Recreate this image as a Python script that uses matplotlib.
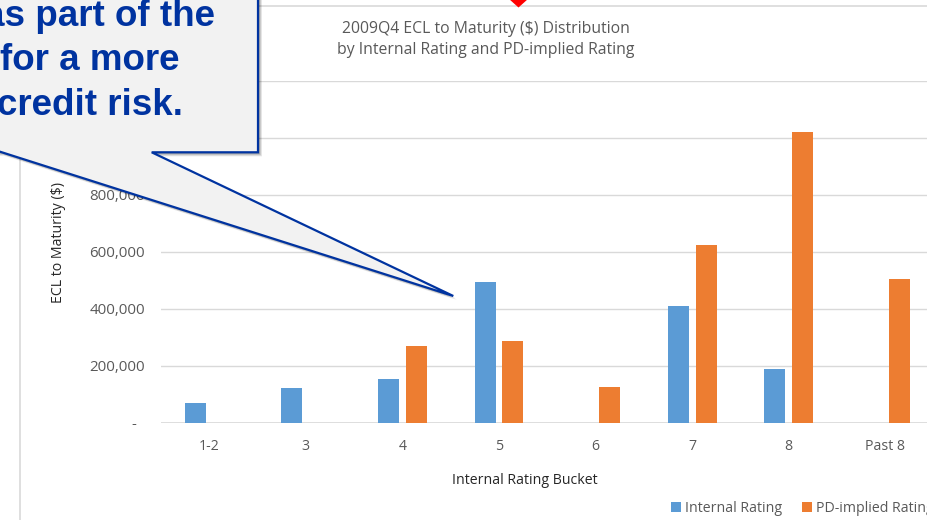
import matplotlib
matplotlib.use("Agg")
import matplotlib.pyplot as plt
from matplotlib.patches import Polygon
from matplotlib.lines import Line2D
import numpy as np

# ---- data ----
categories = ["1-2", "3", "4", "5", "6", "7", "8", "Past 8"]
internal_rating = [68000, 120000, 152000, 494000, 0, 410000, 188000, 0]
pd_implied_rating = [0, 0, 270000, 286000, 126000, 623000, 1020000, 503000]
series_names = ["Internal Rating", "PD-implied Rating"]
y_ticks = [0, 200000, 400000, 600000, 800000, 1000000, 1200000]
# labels of the two top ticks are hidden behind the callout in the reference
hidden_tick_labels = [1000000, 1200000]

title = "2009Q4 ECL to Maturity ($) Distribution\nby Internal Rating and PD-implied Rating"
x_label = "Internal Rating Bucket"
y_label = "ECL to Maturity ($)"
callout_lines = ["as part of the", "for a more", "credit risk."]

BLUE = "#5b9bd5"
ORANGE = "#ed7d31"
GRID = "#d9d9d9"
TXT = "#595959"
CALL = "#0033a0"

W, H = 928, 520
fig = plt.figure(figsize=(W / 100, H / 100), dpi=100)
plt.rcParams["font.family"] = ["Open Sans", "DejaVu Sans"]


def fx(x):
    return x / W


def fy(y):
    return 1 - y / H


def ylab(v):
    if v == 0:
        return "-  "
    if v in hidden_tick_labels:
        return ""
    return f"{v:,.0f}"


# axes placement (pixels)
left_px, right_px = 160.9, 933.7
top_px, bot_px = 80.5, 422.5
ax = fig.add_axes([fx(left_px), fy(bot_px), (right_px - left_px) / W, (bot_px - top_px) / H])

x = np.arange(len(categories))
bw = 0.2174
off = 0.1429
b1 = ax.bar(x - off, internal_rating, bw, color=BLUE, label=series_names[0], zorder=3)
b2 = ax.bar(x + off, pd_implied_rating, bw, color=ORANGE, label=series_names[1], zorder=3)

ax.set_xlim(-0.5, len(categories) - 0.5)
ax.set_ylim(0, 1200000)
ax.set_yticks(y_ticks)
ax.set_yticklabels([ylab(v) for v in y_ticks])
ax.set_xticks(x)
ax.set_xticklabels(categories)
ax.grid(axis="y", color=GRID, linewidth=1.0, zorder=0)
for s in ax.spines.values():
    s.set_visible(False)
ax.axhline(0, color=GRID, linewidth=1.2, zorder=2)
ax.tick_params(axis="both", length=0, labelcolor=TXT)
ax.tick_params(axis="y", pad=11.5, labelsize=10.8)
ax.tick_params(axis="x", pad=12, labelsize=10.2)

# title and axis titles
fig.text(fx(486), fy(39.5), title, ha="center", va="center", fontsize=11.3,
         color=TXT, linespacing=1.35)
fig.text(fx(525), fy(480), x_label, ha="center", va="center", fontsize=10.2, color="#262626")
fig.text(fx(58.5), fy(242.5), y_label, ha="center", va="center", rotation=90,
         fontsize=10.2, color="#262626")

# legend
fig.legend(handles=[b1, b2], labels=series_names, loc="center left",
           bbox_to_anchor=(fx(671), fy(508)), ncol=2, frameon=False,
           fontsize=10.2, labelcolor=TXT, handlelength=0.7, handleheight=0.7,
           handletextpad=0.3, columnspacing=1.4, borderpad=0, borderaxespad=0)

# chart area border
fig.add_artist(Line2D([fx(20), fx(20)], [fy(0), fy(530)], color=GRID, lw=1.2, transform=fig.transFigure, zorder=1))
fig.add_artist(Line2D([fx(20), fx(940)], [fy(6), fy(6)], color=GRID, lw=1.2, transform=fig.transFigure, zorder=1))

# red marker at top
fig.add_artist(Polygon([(fx(509), fy(-1)), (fx(528), fy(-1)), (fx(518.5), fy(7.5))],
                       closed=True, facecolor="#ff0000", edgecolor="none",
                       transform=fig.transFigure, zorder=5))

# callout shape
pts = [(-60, -60), (258, -60), (258, 152.3), (151.7, 152.3), (453.3, 296),
       (0, 151.7), (-60, 151.7)]
for d, a in [(4, 0.10), (3, 0.12), (2, 0.15)]:
    fig.add_artist(Polygon([(fx(px + d), fy(py + d)) for px, py in pts], closed=True,
                           facecolor="#000000", edgecolor="none", alpha=a,
                           transform=fig.transFigure, zorder=9))
fig.add_artist(Polygon([(fx(px), fy(py)) for px, py in pts], closed=True,
                       facecolor="#f2f2f2", edgecolor=CALL, linewidth=1.6,
                       joinstyle="miter", transform=fig.transFigure, zorder=10))

call_pos = [(215, 26), (179.5, 70.5), (183, 115)]
for txt, (px, py) in zip(callout_lines, call_pos):
    fig.text(fx(px), fy(py), txt, ha="right", va="baseline", fontsize=26.5,
             fontweight="bold", family=["Liberation Sans", "DejaVu Sans"],
             color=CALL, zorder=11)

fig.savefig("out.png", dpi=100)
